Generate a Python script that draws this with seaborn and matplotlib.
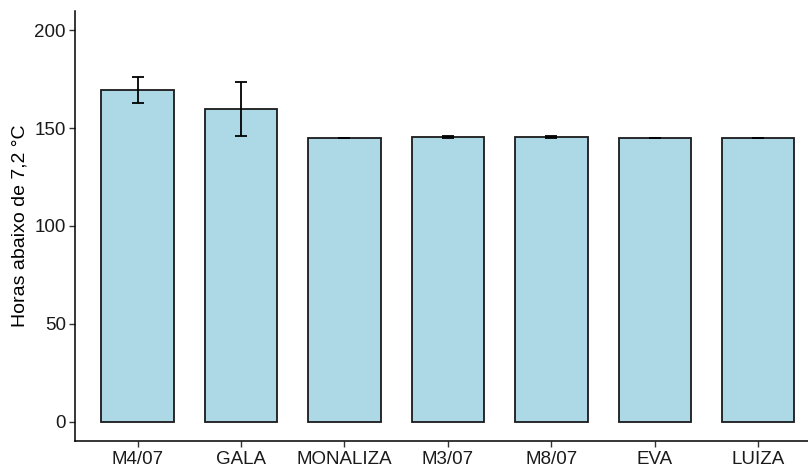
import matplotlib
matplotlib.use("Agg")
import matplotlib.pyplot as plt
import seaborn as sns
import pandas as pd

# Cultivars / selections and chilling hours below 7.2 °C (mean ± error)
cultivares = ["M4/07", "GALA", "MONALIZA", "M3/07", "M8/07", "EVA", "LUIZA"]
horas = [169.5, 159.6, 144.9, 145.6, 145.6, 144.9, 144.9]
erro = [6.5, 13.7, 0.0, 0.5, 0.5, 0.0, 0.0]

df = pd.DataFrame({"cultivar": cultivares, "horas": horas, "erro": erro})

sns.set_style("white")
plt.rcParams["font.family"] = ["Liberation Sans", "DejaVu Sans"]

fig = plt.figure(figsize=(8.08, 4.68), dpi=100)
ax = fig.add_axes([0.0934, 0.0577, 0.9219, 0.9188])

sns.barplot(data=df, x="cultivar", y="horas", order=cultivares,
            color="#ADD8E6", saturation=1, width=0.7, errorbar=None,
            edgecolor="#1a1a1a", linewidth=1.3, ax=ax)

ax.errorbar(range(len(cultivares)), df["horas"], yerr=df["erro"],
            fmt="none", ecolor="black", elinewidth=1.3, capsize=4,
            capthick=1.3)

ax.set_xlim(-0.6, 6.6)
ax.set_ylim(-9.7, 209.7)
ax.set_yticks([0, 50, 100, 150, 200])
ax.set_xlabel("")
ax.set_ylabel("Horas abaixo de 7,2 °C", fontsize=14, color="black")

for side in ["top", "right"]:
    ax.spines[side].set_visible(False)
for side in ["left", "bottom"]:
    ax.spines[side].set_color("black")
    ax.spines[side].set_linewidth(1.1)

ax.tick_params(axis="both", which="both", direction="out", length=4,
               width=1.0, color="#333333", labelsize=13.5,
               labelcolor="#1a1a1a", left=True, bottom=True, pad=3)

fig.savefig("out.png", dpi=100)
